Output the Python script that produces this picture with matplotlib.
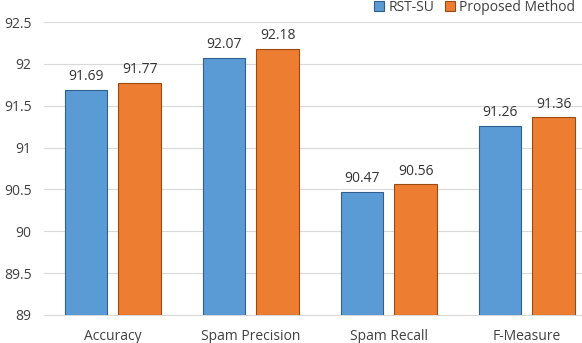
import numpy as np
import matplotlib
matplotlib.use("Agg")
from matplotlib import pyplot as plt

categories = ["Accuracy", "Spam Precision", "Spam Recall", "F-Measure"]
rst_su = [91.69, 92.07, 90.47, 91.26]
proposed = [91.77, 92.18, 90.56, 91.36]
series_names = ["RST-SU", "Proposed Method"]

plt.rcParams['font.family'] = ['Open Sans', 'DejaVu Sans']

fig = plt.figure(figsize=(5.82, 3.43), dpi=100)
ax = fig.add_axes([44/582, 1 - 315/343, 1 - 44/582, (315 - 22)/343])

x = np.arange(len(categories))
w = 0.31
off = 0.195
b1 = ax.bar(x - off, np.array(rst_su) - 89, w, bottom=89, color="#5B9BD5",
            edgecolor="#2E5F8F", linewidth=0.8, label=series_names[0], zorder=3)
b2 = ax.bar(x + off, np.array(proposed) - 89, w, bottom=89, color="#ED7D31",
            edgecolor="#9C4A12", linewidth=0.8, label=series_names[1], zorder=3)

for bars, vals in [(b1, rst_su), (b2, proposed)]:
    for r, v in zip(bars, vals):
        ax.text(r.get_x() + r.get_width() / 2, v + 0.07, f"{v:.2f}",
                ha="center", va="bottom", fontsize=10, color="#333333")

ax.set_ylim(89, 92.5)
ax.set_xlim(-0.5, 3.4)
ax.set_yticks(np.arange(89, 92.51, 0.5))
ax.set_yticklabels(["89", "89.5", "90", "90.5", "91", "91.5", "92", "92.5"])
ax.set_xticks(x)
ax.set_xticklabels(categories)
ax.tick_params(axis="both", length=0, labelsize=10, colors="#404040")
ax.tick_params(axis="x", pad=10)
ax.tick_params(axis="y", pad=9)
ax.grid(axis="y", color="#D9D9D9", linewidth=0.8, zorder=0)
for s in ["top", "right", "left"]:
    ax.spines[s].set_visible(False)
ax.spines["bottom"].set_color("#D9D9D9")

ax.legend(loc="lower right", bbox_to_anchor=(1.0, 1.0), ncol=2, frameon=False,
          fontsize=10, handlelength=0.7, handleheight=0.7, handletextpad=0.3,
          columnspacing=0.8, borderaxespad=0.1, labelcolor="#404040")

fig.savefig("out.png", dpi=100)
